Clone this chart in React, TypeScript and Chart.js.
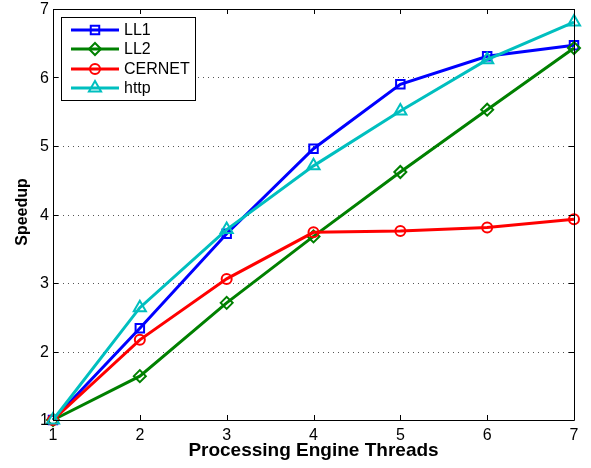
import React, { useEffect, useRef } from "react";
import { Chart, registerables } from "chart.js";

Chart.register(...registerables);

const threads = [1, 2, 3, 4, 5, 6, 7];
const ll1 = [1, 2.34, 3.72, 4.96, 5.9, 6.31, 6.47];
const ll2 = [1, 1.64, 2.71, 3.68, 4.62, 5.53, 6.43];
const cernet = [1, 2.17, 3.06, 3.74, 3.76, 3.81, 3.93];
const http = [1, 2.64, 3.78, 4.71, 5.51, 6.26, 6.81];
const seriesNames = ["LL1", "LL2", "CERNET", "http"];
const xTicks = [1, 2, 3, 4, 5, 6, 7];
const yTicks = [1, 2, 3, 4, 5, 6, 7];
const xTitle = "Processing Engine Threads";
const yTitle = "Speedup";

const FONT = "'Liberation Sans', Arial, Helvetica, sans-serif";

function drawMarker(ctx: CanvasRenderingContext2D, style: string, r: number, x: number, y: number) {
  ctx.beginPath();
  if (style === "rect") {
    const s = r * Math.SQRT1_2;
    ctx.rect(x - s, y - s, 2 * s, 2 * s);
  } else if (style === "rectRot") {
    ctx.moveTo(x, y - r);
    ctx.lineTo(x + r, y);
    ctx.lineTo(x, y + r);
    ctx.lineTo(x - r, y);
    ctx.closePath();
  } else if (style === "circle") {
    ctx.arc(x, y, r, 0, Math.PI * 2);
  } else {
    ctx.moveTo(x, y - r);
    ctx.lineTo(x + r * 0.866, y + r * 0.5);
    ctx.lineTo(x - r * 0.866, y + r * 0.5);
    ctx.closePath();
  }
  ctx.stroke();
}

const framePlugin = {
  id: "frame",
  afterDatasetsDraw(chart: any) {
    const { ctx, chartArea: a, scales } = chart;
    ctx.save();
    ctx.strokeStyle = "#000";
    ctx.lineWidth = 1;
    ctx.beginPath();
    ctx.rect(Math.round(a.left) + 0.5, Math.round(a.top) + 0.5, Math.round(a.right - a.left), Math.round(a.bottom - a.top));
    ctx.stroke();
    const tl = 5;
    ctx.beginPath();
    xTicks.forEach((t) => {
      const x = Math.round(scales.x.getPixelForValue(t)) + 0.5;
      ctx.moveTo(x, a.bottom);
      ctx.lineTo(x, a.bottom - tl);
      ctx.moveTo(x, a.top);
      ctx.lineTo(x, a.top + tl);
    });
    yTicks.forEach((t) => {
      const y = Math.round(scales.y.getPixelForValue(t)) + 0.5;
      ctx.moveTo(a.left, y);
      ctx.lineTo(a.left + tl, y);
      ctx.moveTo(a.right, y);
      ctx.lineTo(a.right - tl, y);
    });
    ctx.stroke();

    ctx.fillStyle = "#000";
    ctx.font = `16px ${FONT}`;
    ctx.textAlign = "center";
    ctx.textBaseline = "alphabetic";
    xTicks.forEach((t) => {
      ctx.fillText(String(t), scales.x.getPixelForValue(t), 440);
    });
    ctx.textAlign = "right";
    ctx.textBaseline = "middle";
    yTicks.forEach((t) => {
      ctx.fillText(String(t), a.left - 4, scales.y.getPixelForValue(t) + 1);
    });

    ctx.font = `bold 19px ${FONT}`;
    ctx.textAlign = "center";
    ctx.textBaseline = "alphabetic";
    ctx.fillText(xTitle, (a.left + a.right) / 2, 456);
    ctx.save();
    ctx.translate(26.5, 212);
    ctx.rotate(-Math.PI / 2);
    ctx.font = `bold 16px ${FONT}`;
    ctx.fillText(yTitle, 0, 0);
    ctx.restore();

    const lx = 61, ly = 17, lw = 134, lh = 83;
    ctx.fillStyle = "#fff";
    ctx.fillRect(lx, ly, lw, lh);
    ctx.strokeStyle = "#000";
    ctx.lineWidth = 1;
    ctx.strokeRect(lx + 0.5, ly + 0.5, lw, lh);
    const rows = [30, 49, 69, 88];
    chart.data.datasets.forEach((ds: any, i: number) => {
      const y = rows[i];
      ctx.strokeStyle = ds.borderColor;
      ctx.lineWidth = ds.borderWidth;
      ctx.beginPath();
      ctx.moveTo(71, y);
      ctx.lineTo(119, y);
      ctx.stroke();
      ctx.lineWidth = ds.pointBorderWidth;
      drawMarker(ctx, ds.pointStyle, ds.pointRadius, 95, y);
      ctx.fillStyle = "#000";
      ctx.font = `16px ${FONT}`;
      ctx.textBaseline = "middle";
      ctx.textAlign = "left";
      ctx.fillText(ds.label, 124, y + 1);
    });
    ctx.restore();
  },
};

function mk(label: string, data: number[], color: string, style: string, r: number, order: number) {
  return {
    label,
    data: data.map((v, i) => ({ x: threads[i], y: v })),
    borderColor: color,
    backgroundColor: color,
    borderWidth: 3,
    pointStyle: style,
    pointRadius: r,
    pointBorderWidth: 2,
    pointBorderColor: color,
    pointBackgroundColor: "rgba(255,255,255,0)",
    order,
  };
}

export default function App() {
  const ref = useRef<HTMLCanvasElement>(null);
  useEffect(() => {
    const chart = new Chart(ref.current!, {
      type: "line",
      data: {
        datasets: [
          mk(seriesNames[0], ll1, "#0000ff", "rect", 6, 3),
          mk(seriesNames[1], ll2, "#008000", "rectRot", 6, 2),
          mk(seriesNames[2], cernet, "#ff0000", "circle", 5, 1),
          mk(seriesNames[3], http, "#00bfbf", "triangle", 7, 0),
        ] as any,
      },
      options: {
        responsive: false,
        animation: false,
        events: [],
        clip: false,
        layout: { padding: { top: 9, right: 17, left: 0, bottom: 0 } },
        plugins: { legend: { display: false }, tooltip: { enabled: false } },
        scales: {
          x: {
            type: "linear",
            min: 1,
            max: 7,
            afterFit: (s: any) => { s.height = 48; s.paddingLeft = 0; s.paddingRight = 0; },
            grid: { display: false, drawTicks: false },
            border: { display: false },
            ticks: { display: false },
          },
          y: {
            type: "linear",
            min: 1,
            max: 7,
            afterFit: (s: any) => { s.width = 53; s.paddingTop = 0; s.paddingBottom = 0; },
            grid: { display: false, drawTicks: false },
            border: { display: false },
            ticks: { display: false },
          },
        },
      } as any,
      plugins: [
        {
          id: "dotgrid",
          beforeDatasetsDraw(chart: any) {
            const { ctx, chartArea: a, scales } = chart;
            ctx.save();
            ctx.strokeStyle = "#555";
            ctx.lineWidth = 1;
            ctx.setLineDash([1, 4]);
            yTicks.slice(1, -1).forEach((t) => {
              const y = Math.round(scales.y.getPixelForValue(t)) + 0.5;
              ctx.beginPath();
              ctx.moveTo(a.left, y);
              ctx.lineTo(a.right, y);
              ctx.stroke();
            });
            ctx.restore();
          },
        },
        framePlugin,
      ],
    });
    return () => chart.destroy();
  }, []);
  return (
    <div style={{ position: "fixed", left: 0, top: 0, width: 591, height: 468, background: "#fff" }}>
      <canvas ref={ref} width={591} height={468} style={{ width: 591, height: 468 }} />
    </div>
  );
}
